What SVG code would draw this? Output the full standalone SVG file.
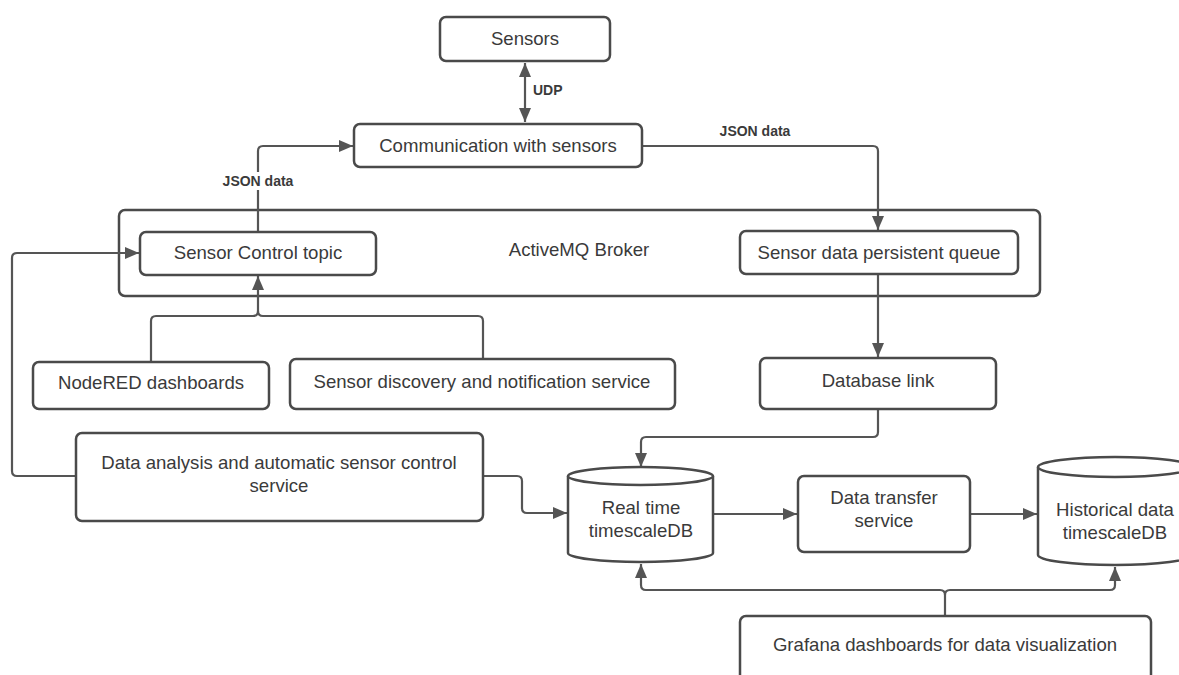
<svg xmlns="http://www.w3.org/2000/svg" width="1179" height="675" viewBox="0 0 1179 675">
<style>
.box{fill:#fff;stroke:#4a4a4a;stroke-width:2.5}
.t{font-family:"Liberation Sans",Arial,sans-serif;font-size:18.6px;fill:#3a3a3a;text-anchor:middle}
.lbl{font-family:"Liberation Sans",Arial,sans-serif;font-size:14px;font-weight:bold;fill:#3a3a3a}
.c{fill:none;stroke:#555;stroke-width:2.2}
</style>
<defs>
<marker id="ah" markerUnits="userSpaceOnUse" markerWidth="15" markerHeight="12" refX="14" refY="6" orient="auto-start-reverse">
<path d="M0,0 L14,6 L0,12 z" fill="#555"/>
</marker>
</defs>
<rect width="1179" height="675" fill="#fff"/>
<g id="broker"><rect class="box" x="119" y="210" width="921" height="86" rx="6"/><text class="t" x="579" y="256">ActiveMQ Broker</text></g>
<g id="connectors">
<path class="c" d="M525,63 V122" marker-start="url(#ah)" marker-end="url(#ah)"/>
<path class="c" d="M258,231 V151 Q258,146 263,146 H353" marker-end="url(#ah)"/>
<path class="c" d="M642,146 H873 Q878,146 878,151 V230" marker-end="url(#ah)"/>
<path class="c" d="M878,275 V357" marker-end="url(#ah)"/>
<path class="c" d="M878,409 V432 Q878,437 873,437 H646 Q641,437 641,442 V467" marker-end="url(#ah)"/>
<path class="c" d="M151,361 V321 Q151,316 156,316 H253 Q258,316 258,311 V276" marker-end="url(#ah)"/>
<path class="c" d="M483,359 V321 Q483,316 478,316 H263 Q258,316 258,311"/>
<path class="c" d="M76,476 H17 Q12,476 12,471 V258 Q12,253 17,253 H139" marker-end="url(#ah)"/>
<path class="c" d="M483,476 H517 Q522,476 522,481 V508 Q522,513 527,513 H567" marker-end="url(#ah)"/>
<path class="c" d="M713,514 H797" marker-end="url(#ah)"/>
<path class="c" d="M970,514 H1037" marker-end="url(#ah)"/>
<path class="c" d="M945,616 V595 Q945,590 940,590 H646 Q641,590 641,585 V564" marker-end="url(#ah)"/>
<path class="c" d="M945,595 Q945,590 950,590 H1110 Q1115,590 1115,585 V567" marker-end="url(#ah)"/>
<rect x="218" y="172" width="80" height="18" fill="#fff"/>
<text class="lbl" x="258" y="186" text-anchor="middle">JSON data</text>
<text class="lbl" x="755" y="136" text-anchor="middle">JSON data</text>
<text class="lbl" x="533" y="95">UDP</text>
</g>
<g id="sensors"><rect class="box" x="440" y="17" width="170" height="44" rx="6"/><text class="t" x="525" y="45">Sensors</text></g>
<g id="comm"><rect class="box" x="354" y="124" width="288" height="43" rx="6"/><text class="t" x="498" y="152">Communication with sensors</text></g>
<g id="sensor-control"><rect class="box" x="140" y="232" width="236" height="43" rx="6"/><text class="t" x="258" y="259">Sensor Control topic</text></g>
<g id="queue"><rect class="box" x="740" y="231" width="278" height="43" rx="6"/><text class="t" x="879" y="259">Sensor data persistent queue</text></g>
<g id="nodered"><rect class="box" x="33" y="362" width="236" height="47" rx="6"/><text class="t" x="151" y="389">NodeRED dashboards</text></g>
<g id="discovery"><rect class="box" x="290" y="359" width="385" height="50" rx="6"/><text class="t" x="482" y="388">Sensor discovery and notification service</text></g>
<g id="dblink"><rect class="box" x="760" y="358" width="236" height="51" rx="6"/><text class="t" x="878" y="387">Database link</text></g>
<g id="analysis"><rect class="box" x="76" y="433" width="407" height="88" rx="6"/><text class="t" x="279" y="469">Data analysis and automatic sensor control</text><text class="t" x="279" y="492">service</text></g>
<g id="realtime"><path class="box" d="M568,476 A72.5,9 0 0,1 713,476 V553 A72.5,9 0 0,1 568,553 Z"/><path class="box" d="M568,476 A72.5,9 0 0,0 713,476" fill="none"/><text class="t" x="641" y="514">Real time</text><text class="t" x="641" y="537">timescaleDB</text></g>
<g id="transfer"><rect class="box" x="798" y="476" width="172" height="76" rx="6"/><text class="t" x="884" y="504">Data transfer</text><text class="t" x="884" y="527">service</text></g>
<g id="historical"><path class="box" d="M1038,467 A77,10 0 0,1 1192,467 V555 A77,10 0 0,1 1038,555 Z"/><path class="box" d="M1038,467 A77,10 0 0,0 1192,467" fill="none"/><text class="t" x="1115" y="516">Historical data</text><text class="t" x="1115" y="539">timescaleDB</text></g>
<g id="grafana"><rect class="box" x="740" y="616" width="411" height="80" rx="6"/><text class="t" x="945" y="651">Grafana dashboards for data visualization</text></g>
</svg>
